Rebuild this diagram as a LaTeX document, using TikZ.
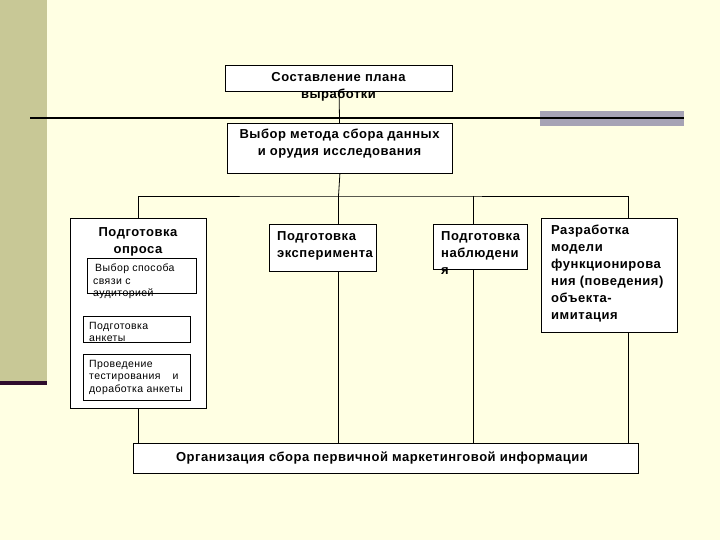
\documentclass[tikz,border=0pt]{standalone}
\usepackage{fontspec}
\setmainfont{Liberation Sans}
\newfontfamily\widefont[LetterSpace=4]{Liberation Sans}
\usetikzlibrary{positioning}
\definecolor{paper}{HTML}{FFFFE3}
\definecolor{sidebar}{HTML}{C8C896}
\definecolor{sideline}{HTML}{2E0C2C}
\definecolor{graybar}{HTML}{A6A3B5}

\begin{document}
\begin{tikzpicture}[
    x=1pt, y=-1pt,
    box/.style={rectangle, draw=black, fill=white, line width=0.8pt, inner sep=0pt, anchor=north west},
    head/.style={font=\widefont\fontsize{13}{17}\selectfont\bfseries, inner sep=0pt, align=center, anchor=north},
    headl/.style={font=\widefont\fontsize{13}{17}\selectfont\bfseries, inner sep=0pt, align=left, anchor=north west},
    small/.style={font=\widefont\fontsize{10.5}{12.5}\selectfont, inner sep=0pt, align=left, anchor=north west},
    link/.style={draw=black, line width=0.8pt}
]

% --- Background ---
\fill[paper] (0,0) rectangle (720,540);
\useasboundingbox (0,0) rectangle (720,540);
\fill[sidebar] (0,0) rectangle (47,381);
\fill[sideline] (0,381) rectangle (47,385);
\fill[graybar] (540,111) rectangle (684,126);
\draw[line width=2pt] (30,118) -- (684,118);

% --- Boxes ---
\node (plan) at (225,65) [box, minimum width=227, minimum height=26] {};
\node (method) at (227,123) [box, minimum width=225, minimum height=50] {};
\node (survey) at (70,218) [box, minimum width=136, minimum height=190] {};
\node (channel) at (87,258) [box, minimum width=109, minimum height=35] {};
\node (form) at (83,316) [box, minimum width=107, minimum height=26] {};
\node (pilot) at (83,354) [box, minimum width=107, minimum height=46] {};
\node (exper) at (269,224) [box, minimum width=107, minimum height=47] {};
\node (observ) at (433,224) [box, minimum width=94, minimum height=45] {};
\node (model) at (541,218) [box, minimum width=136, minimum height=114] {};
\node (collect) at (133,443) [box, minimum width=505, minimum height=30] {};

% --- Texts ---
\node (plan-t) at (338.5,72) [head] {Составление плана\\выработки};
\node (method-t) at (339.5,129) [head] {Выбор метода сбора данных\\и орудия исследования};
\node (survey-t) at (138,227) [head] {Подготовка\\опроса};
\node (channel-t) at (93,264) [small] {\hspace{2pt}Выбор способа\\связи с\\аудиторией};
\begin{scope}
  \clip (form.north west) rectangle (form.south east);
  \node (form-t) at (89,322) [small] {Подготовка\\анкеты};
\end{scope}
\node (pilot-t) at (89,360) [small] {Проведение\\тестирования\hspace{12pt}и\\доработка анкеты};
\node (exper-t) at (277,231) [headl] {Подготовка\\эксперимента};
\node (observ-t) at (441,231) [headl] {Подготовка\\наблюдени\\я};
\node (model-t) at (551,225) [headl] {Разработка\\модели\\функционирова\\ния (поведения)\\объекта-\\имитация};
\node (collect-t) at (382,452) [head] {Организация сбора первичной маркетинговой информации};

% --- Edges ---
\coordinate (hub) at (338.5,196);
\draw [link] (plan) -- (method);
\draw [link] (method.south) -- (hub);
\draw [link] (survey.north) |- (hub) -| ([xshift=19pt]model.north);
\draw [link] (hub) -- (hub |- exper.north);
\draw [link] (hub -| observ.north) ++(-7,0) -- ([xshift=-7pt]observ.north);

% Down to collection
\draw [link] (survey.south) -- (survey.south |- collect.north);
\draw [link] (hub |- exper.south) -- (hub |- collect.north);
\draw [link] ([xshift=-7pt]observ.south) -- ([xshift=-7pt]observ.south |- collect.north);
\draw [link] ([xshift=19pt]model.south) -- ([xshift=19pt]model.south |- collect.north);

\end{tikzpicture}
\end{document}
